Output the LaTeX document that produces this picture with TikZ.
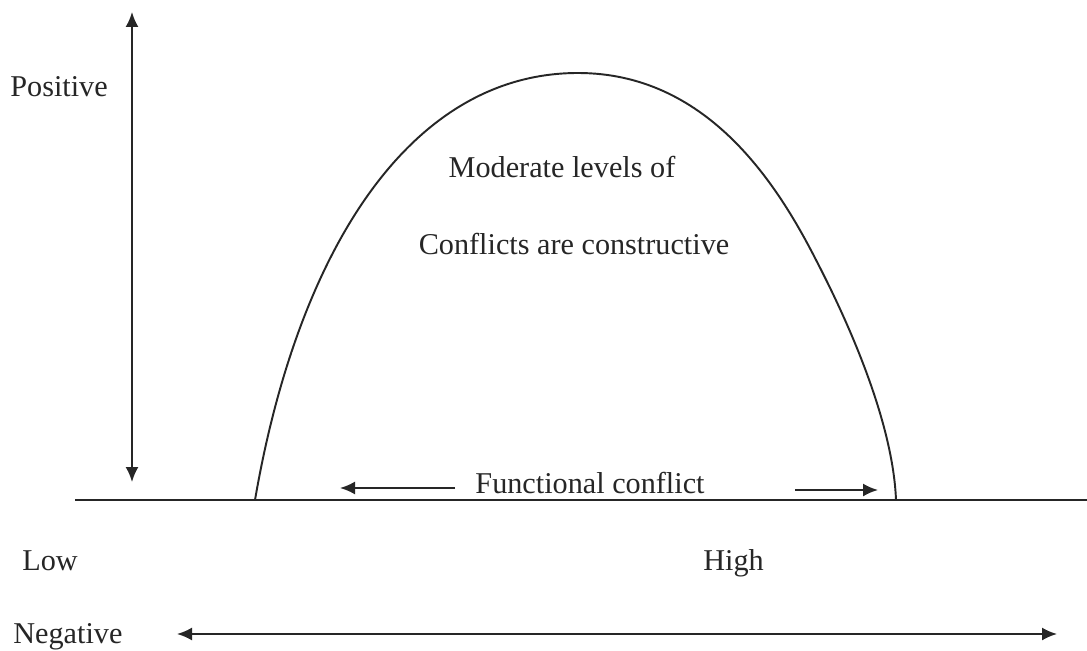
\documentclass[tikz,border=0pt]{standalone}
\usepackage{fontspec}
\setmainfont{Liberation Serif}
\usepackage{tikz}
\usetikzlibrary{arrows.meta,positioning}
\tikzset{%
	axisline/.style = {line width=1.1pt, black!85},
	axisarrow/.style= {line width=1.1pt, black!85, {Latex[length=3mm,width=2.6mm]}-{Latex[length=3mm,width=2.6mm]}},
	onearrow/.style = {line width=1.1pt, black!85, -{Latex[length=3mm,width=2.6mm]}},
	lbl/.style      = {font=\fontsize{17.2}{20}\selectfont, inner sep=0pt, text=black!85},
}
\begin{document}
\begin{tikzpicture}[x=0.02cm, y=-0.02cm]
		\useasboundingbox[fill=white] (0,0) rectangle (1087,651);
		% axes
		\coordinate (vtop) at (132,12);
		\coordinate (vbot) at (132,482);
		\coordinate (bl) at (75,500);
		\coordinate (br) at (1087,500);
		\coordinate (hl) at (177,634);
		\coordinate (hr) at (1057,634);
		\draw[axisarrow] (vtop) -- (vbot);
		\draw[axisline] (bl) -- (br);
		\draw[axisarrow] (hl) -- (hr);
		
		% the curve
		\coordinate (cl) at (255,500);
		\coordinate (ctop) at (578,73);
		\coordinate (cr) at (896,500);
		\draw[axisline] (cl) .. controls (298,250) and (410,73) .. (ctop)
			.. controls (705,73) and (775,180) .. (815,258)
			.. controls (852,329) and (893,425) .. (cr);
		
		\node[lbl, anchor=base west] (pos) at (10,97) {Positive};
		\node[lbl, anchor=base west] (neg) at (13,643) {Negative};
		\node[lbl, anchor=base west] (low) at (22,570) {Low};
		\node[lbl, anchor=base west] (high) at (703,570) {High};
		\node[lbl, anchor=base] (mod) at (562,178) {Moderate levels of};
		\node[lbl, anchor=base] (con) at (574,255) {Conflicts are constructive};
		\node[lbl, anchor=base] (fun) at (590,493) {Functional conflict};
		
		\coordinate (fls) at (455,488);
		\coordinate (fl) at (340,488);
		\coordinate (frs) at (795,490);
		\coordinate (fr) at (878,490);
		\draw[onearrow] (fls) -- (fl);
		\draw[onearrow] (frs) -- (fr);
\end{tikzpicture}
\end{document}
